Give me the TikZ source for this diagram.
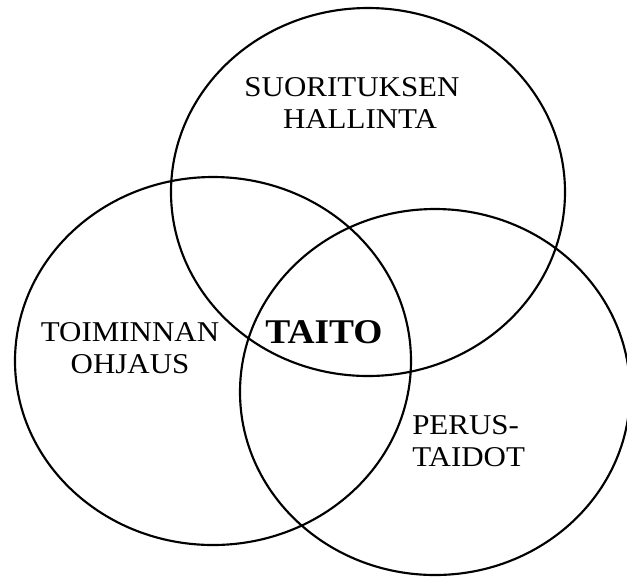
\documentclass[tikz,border=0pt]{standalone}
\usepackage{fontspec}
\setmainfont{Liberation Serif}[FakeStretch=1.08]
\usetikzlibrary{positioning}

\begin{document}
\begin{tikzpicture}[
      x=0.75pt, y=-0.75pt,
      ring/.style={line width=1.6pt},
      lbl/.style={inner sep=0pt, align=center, font=\fontsize{21.5}{24}\selectfont},
      core/.style={inner sep=0pt, font=\fontsize{26}{28}\selectfont\bfseries}
    ]
    \useasboundingbox (0,0) rectangle (627,576);
    \begin{scope}
      \clip (0,0) rectangle (627,576);
      \coordinate (ctop)   at (368,192);
      \coordinate (cleft)  at (213,361);
      \coordinate (cright) at (435,392);
      \draw[ring] (ctop)   ellipse [x radius=197, y radius=184];
      \draw[ring] (cleft)  ellipse [x radius=198, y radius=184];
      \draw[ring] (cright) ellipse [x radius=195, y radius=183];
    \end{scope}

    \node[lbl] (suoritus) at (352,103.5) {SUORITUKSEN\\\hspace*{12pt}HALLINTA};
    \node[lbl] (toiminta) at (130,348.5) {TOIMINNAN\\OHJAUS};
    \node[core] (taito) at (324,332.5) {TAITO};
    \node[lbl, align=left, anchor=west] (perus) at (412,441) {PERUS-\\TAIDOT};
  \end{tikzpicture}
\end{document}
